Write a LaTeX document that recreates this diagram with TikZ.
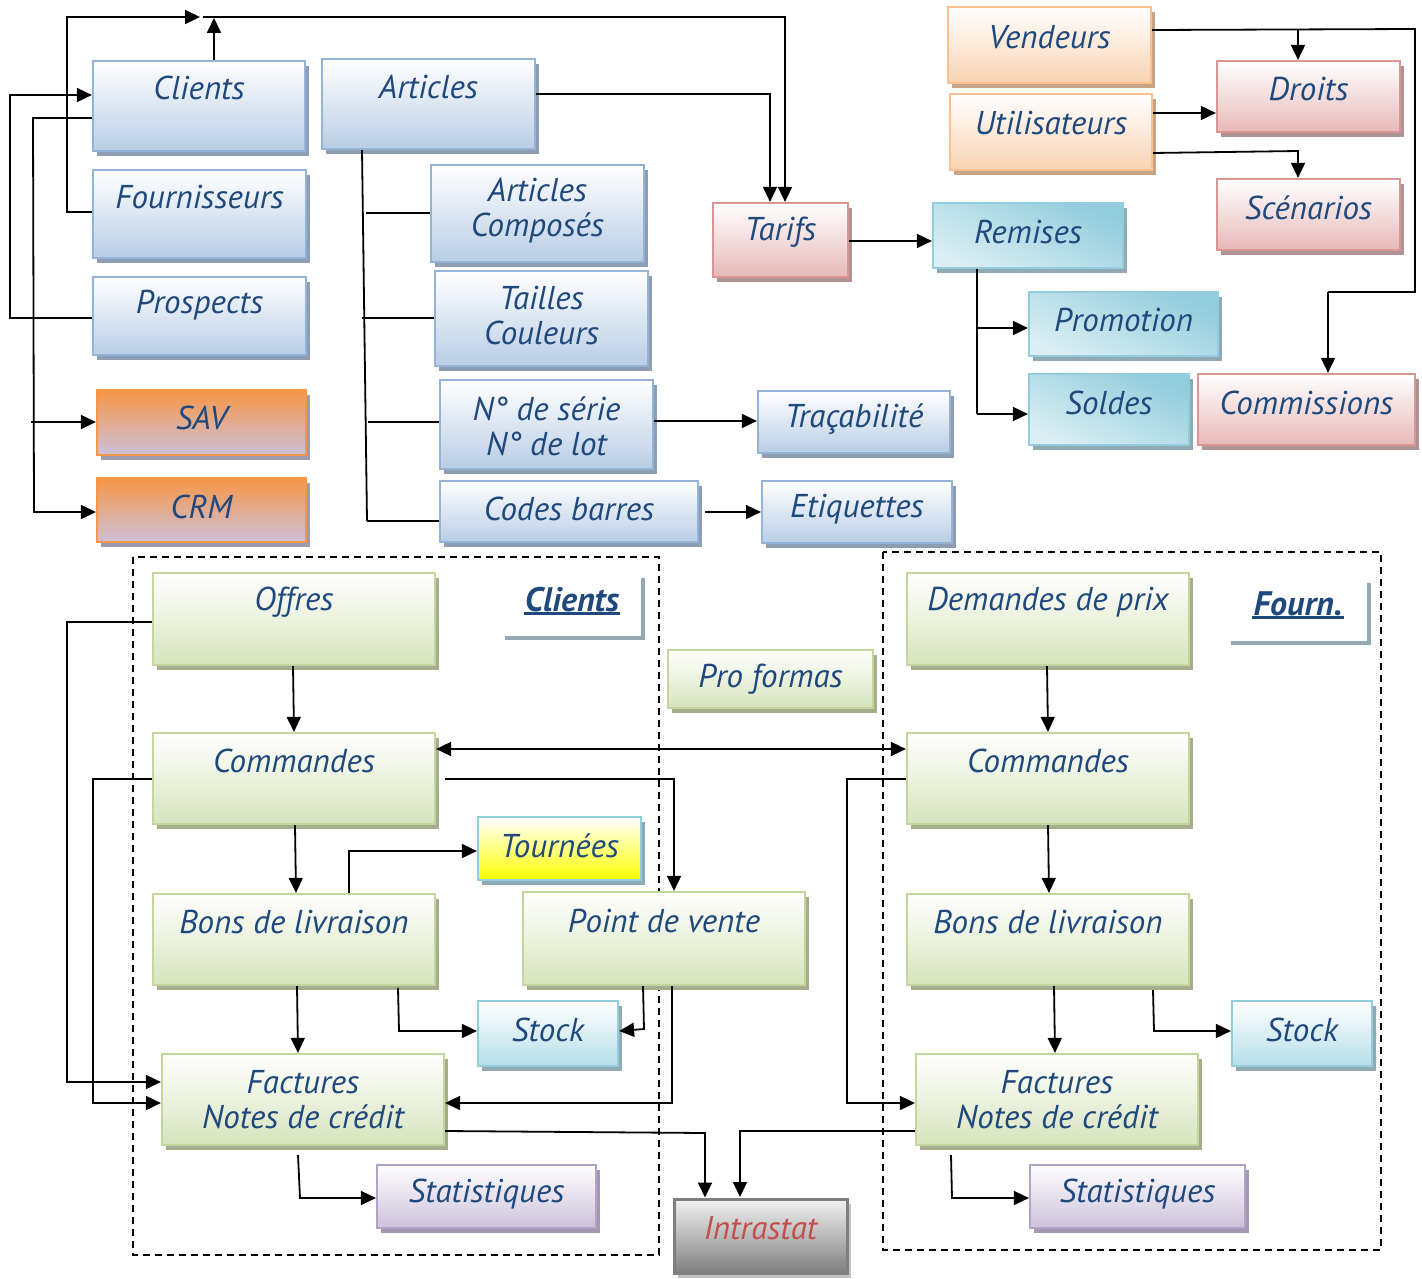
\documentclass[tikz,border=0pt]{standalone}
\usepackage{fontspec}
\setmainfont{PT Sans}
\usetikzlibrary{arrows.meta,fit,shadows}
\definecolor{tc}{HTML}{1F497D}
\definecolor{blueB}{HTML}{95B3D7}\definecolor{blueF}{HTML}{B9CDE5}\definecolor{blueS}{HTML}{8D9DB3}
\definecolor{redB}{HTML}{D99694}\definecolor{redF}{HTML}{E6B9B8}\definecolor{redS}{HTML}{AE9294}
\definecolor{orgB}{HTML}{FAC090}\definecolor{orgF}{HTML}{F9D3B4}\definecolor{orgS}{HTML}{C8A484}
\definecolor{tealB}{HTML}{93CDDD}\definecolor{tealD}{HTML}{92CDDC}\definecolor{tealL}{HTML}{DAEEF3}\definecolor{tealS}{HTML}{8FAAB3}
\definecolor{savB}{HTML}{F79646}\definecolor{savL}{HTML}{CCC0DA}\definecolor{savS}{HTML}{9F9AAC}
\definecolor{grnB}{HTML}{C3D69B}\definecolor{grnF}{HTML}{D7E4BD}\definecolor{grnS}{HTML}{A5AD8C}
\definecolor{stkF}{HTML}{B7DEE8}
\definecolor{purB}{HTML}{B3A2C7}\definecolor{purF}{HTML}{CCC1DA}\definecolor{purS}{HTML}{A399AE}
\definecolor{grayB}{HTML}{7F7F7F}\definecolor{grayS}{HTML}{C4C4C4}
\definecolor{intraT}{HTML}{C0504D}
\definecolor{lblS}{HTML}{93A9B5}
\tikzset{
 base/.style={draw, line width=2.2pt, inner sep=0pt, shading=axis},
 shd/.style={drop shadow={shadow xshift=4pt,shadow yshift=-5pt,fill=#1,opacity=1}},
 blu/.style={base, draw=blueB, top color=white, bottom color=blueF, shd=blueS},
 red/.style={base, draw=redB, top color=white, bottom color=redF, shd=redS},
 org/.style={base, draw=orgB, top color=white, bottom color=orgF, shd=orgS},
 teal/.style={base, draw=tealB, top color=tealD, bottom color=tealL, shading angle=-25, shd=tealS},
 sav/.style={base, draw=savB, top color=savB, bottom color=savL, shd=savS},
 grn/.style={base, draw=grnB, top color=white, bottom color=grnF, shd=grnS},
 stk/.style={base, draw=tealB, top color=white, bottom color=stkF, shd=tealS},
 yel/.style={base, draw=tealB, top color=white, bottom color=yellow, shd=tealS},
 pur/.style={base, draw=purB, top color=white, bottom color=purF, shd=purS},
 gry/.style={base, draw=grayB, line width=3pt, top color=white!95!black, bottom color=grayB, shd=grayS},
 txt/.style={text=tc, font=\fontsize{33}{35}\selectfont\itshape, align=center, inner sep=0pt},
 lbl/.style={text=tc, font=\fontsize{34}{36}\selectfont\bfseries\itshape, inner sep=1pt},
 ln/.style={line width=1.8pt},
 ar/.style={ln, -{Triangle[length=15pt,width=14pt]}},
 dar/.style={ln, {Triangle[length=15pt,width=14pt]}-{Triangle[length=15pt,width=14pt]}},
 frame/.style={line width=1.5pt, dash pattern=on 7pt off 5pt},
}
\newcommand\bx[8]{%
 \node[#2, fit={(#3,#4)(#5,#6)}] (#1) {};
 \node[txt] (#1t) at (#1.center |- 0,#7) {#8};}
\begin{document}
\begin{tikzpicture}[x=1pt,y=-1pt]
\useasboundingbox (0,0) rectangle (1422,1279);
% frames
\draw[frame] (133,557) rectangle (659,1255);
\draw[frame] (883,552) rectangle (1381,1250);
% top boxes
\bx{clients}{blu}{93}{61}{305}{151}{88}{Clients}
\bx{fourn}{blu}{93}{170}{306}{258}{197}{Fournisseurs}
\bx{prosp}{blu}{93}{277}{306}{355}{305}{Prospects}
\bx{sav}{sav}{97}{390}{306}{455}{418}{SAV}
\bx{crm}{sav}{97}{478}{306}{542}{507}{CRM}
\bx{articles}{blu}{322}{59}{535}{149}{87}{Articles}
\bx{artcomp}{blu}{431}{165}{644}{262}{211}{Articles\\Composés}
\bx{tailles}{blu}{435}{271}{648}{366}{316}{Tailles\\Couleurs}
\bx{serie}{blu}{440}{380}{653}{469}{426}{N° de série\\N° de lot}
\bx{codes}{blu}{440}{481}{698}{542}{509}{Codes barres}
\bx{tracab}{blu}{758}{391}{950}{453}{419}{Traçabilité}
\bx{etiq}{blu}{762}{481}{952}{543}{509}{Etiquettes}
\bx{tarifs}{red}{713}{203}{848}{277}{232}{Tarifs}
\bx{remises}{teal}{933}{203}{1123}{268}{232}{Remises}
\bx{promo}{teal}{1029}{292}{1218}{356}{320}{Promotion}
\bx{soldes}{teal}{1029}{374}{1189}{445}{403}{Soldes}
\bx{commis}{red}{1198}{374}{1415}{445}{403}{Commissions}
\bx{vend}{org}{948}{7}{1151}{83}{37}{Vendeurs}
\bx{util}{org}{950}{94}{1152}{170}{123}{Utilisateurs}
\bx{droits}{red}{1217}{61}{1400}{132}{89}{Droits}
\bx{scen}{red}{1217}{179}{1400}{250}{208}{Scénarios}
% bottom boxes
\bx{offres}{grn}{153}{573}{435}{665}{602}{Offres}
\bx{cmdc}{grn}{153}{733}{435}{824}{761}{Commandes}
\bx{blc}{grn}{153}{894}{435}{985}{922}{Bons de livraison}
\bx{facc}{grn}{162}{1054}{444}{1145}{1100}{Factures\\Notes de crédit}
\bx{statc}{pur}{377}{1165}{596}{1228}{1194}{Statistiques}
\bx{tournees}{yel}{478}{817}{641}{880}{846}{Tournées}
\bx{pdv}{grn}{523}{892}{805}{985}{921}{Point de vente}
\bx{stockc}{stk}{478}{1001}{618}{1066}{1030}{Stock}
\bx{proforma}{grn}{668}{650}{873}{708}{679}{Pro formas}
\bx{intra}{gry}{674}{1199}{847}{1273}{1228}{\color{intraT}Intrastat}
\bx{demf}{grn}{907}{573}{1189}{665}{602}{Demandes de prix}
\bx{cmdf}{grn}{907}{733}{1189}{824}{761}{Commandes}
\bx{blf}{grn}{907}{894}{1189}{985}{922}{Bons de livraison}
\bx{facf}{grn}{916}{1054}{1198}{1145}{1100}{Factures\\Notes de crédit}
\bx{stockf}{stk}{1232}{1001}{1372}{1066}{1030}{Stock}
\bx{statf}{pur}{1030}{1165}{1245}{1228}{1194}{Statistiques}
% section labels
\draw[line width=4pt, lblS] (505,638) -- (643,638) -- (643,578);
\node[lbl] (lblc) at (572,600) {Clients};
\draw[line width=2.5pt, tc] (lblc.south west) -- (lblc.south east);
\draw[line width=4pt, lblS] (1231,643) -- (1369,643) -- (1369,583);
\node[lbl] (lblf) at (1298,604) {Fourn.};
\draw[line width=2.5pt, tc] (lblf.south west) -- (lblf.south east);
% top connectors
\coordinate (tj) at (214,18);
\draw[ar] (clients.north -| 214,0) -- (tj);
\draw[ar] (fourn.west |- 0,212) -- (67,212) -- (67,17) -- (200,17);
\draw[ar] (203,17) -- (785,17) -- (tarifs.north -| 785,0);
\draw[ar] (articles.east |- 0,94) -- (770,94) -- (tarifs.north -| 770,0);
\draw[ar] (prosp.west |- 0,318) -- (10,318) -- (10,95) -- (clients.west |- 0,95);
\draw[ar] (clients.west |- 0,118) -- (33,118) -- (34,512) -- (crm.west |- 0,512);
\draw[ar] (31,422) -- (sav.west |- 0,422);
\draw[ln] (articles.south -| 362,0) -- (367,521);
\draw[ln] (366,213) -- (artcomp.west |- 0,213);
\draw[ln] (362,318) -- (tailles.west |- 0,318);
\draw[ln] (368,422) -- (serie.west |- 0,422);
\draw[ln] (367,521) -- (codes.west |- 0,521);
\draw[ar] (serie.east |- 0,421) -- (tracab.west |- 0,421);
\draw[ar] (705,512) -- (etiq.west |- 0,512);
\draw[ar] (tarifs.east |- 0,241) -- (remises.west |- 0,241);
\draw[ln] (remises.south -| 977,0) -- (977,414);
\draw[ar] (977,328) -- (promo.west |- 0,328);
\draw[ar] (977,414) -- (soldes.west |- 0,414);
\draw[ln] (vend.east |- 0,30) -- (1415,29) -- (1415,292) -- (1328,292);
\draw[ar] (1328,292) -- (commis.north -| 1328,0);
\draw[ar] (1298,29) -- (droits.north -| 1298,0);
\draw[ar] (util.east |- 0,113) -- (droits.west |- 0,113);
\draw[ar] (util.east |- 0,153) -- (1298,151) -- (scen.north -| 1298,0);
% bottom connectors
\draw[ar] (offres.south -| 293,0) -- (cmdc.north -| 294,0);
\draw[dar] (cmdc.east |- 0,749) -- (cmdf.west |- 0,749);
\draw[ar] (445,779) -- (674,779) -- (pdv.north -| 674,0);
\draw[ar] (cmdc.south -| 295,0) -- (blc.north -| 296,0);
\draw[ar] (blc.north -| 349,0) -- (349,851) -- (tournees.west |- 0,851);
\draw[ar] (blc.south -| 297,0) -- (facc.north -| 298,0);
\draw[ar] (398,988) -- (399,1031) -- (stockc.west |- 0,1031);
\draw[ar] (pdv.south -| 643,0) -- (644,1029) -- (stockc.east |- 0,1031);
\draw[ar] (pdv.south -| 672,0) -- (672,1103) -- (facc.east |- 0,1103);
\draw[ar] (offres.west |- 0,622) -- (67,622) -- (67,1082) -- (facc.west |- 0,1082);
\draw[ar] (cmdc.west |- 0,779) -- (93,779) -- (93,1103) -- (facc.west |- 0,1103);
\draw[ar] (facc.east |- 0,1131) -- (705,1133) -- (intra.north -| 705,0);
\draw[ar] (facf.west |- 0,1131) -- (740,1131) -- (740,1197);
\draw[ar] (298,1155) -- (300,1198) -- (statc.west |- 0,1198);
\draw[ar] (demf.south -| 1047,0) -- (cmdf.north -| 1048,0);
\draw[ar] (cmdf.west |- 0,779) -- (847,779) -- (847,1103) -- (facf.west |- 0,1103);
\draw[ar] (cmdf.south -| 1048,0) -- (blf.north -| 1049,0);
\draw[ar] (blf.south -| 1054,0) -- (facf.north -| 1055,0);
\draw[ar] (1153,990) -- (1154,1031) -- (stockf.west |- 0,1031);
\draw[ar] (951,1155) -- (952,1198) -- (statf.west |- 0,1198);
\end{tikzpicture}
\end{document}
